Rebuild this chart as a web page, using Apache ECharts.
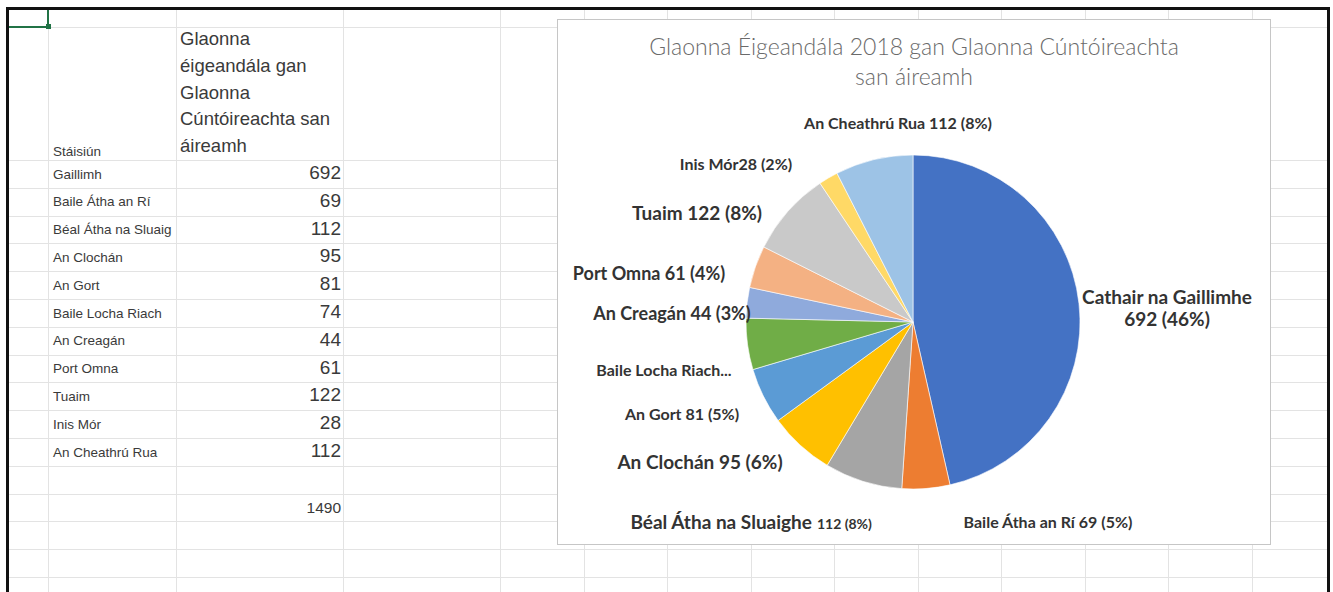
<!DOCTYPE html>
<html><head><meta charset="utf-8">
<script src="https://cdn.jsdelivr.net/npm/echarts@6/dist/echarts.min.js"></script>
<style>
html,body{margin:0;padding:0;background:#fff;}
#page{position:relative;width:1333px;height:592px;overflow:hidden;font-family:"Liberation Sans",Arial,sans-serif;background:#fff;}
.h{position:absolute;height:1px;background:#e3e3e3;left:7px;width:1320px;}
.v{position:absolute;width:1px;background:#e3e3e3;top:9px;bottom:0;}
.t{position:absolute;color:#3a3a3a;white-space:nowrap;}
#frame{position:absolute;left:6px;top:7px;width:1318px;height:600px;border:3px solid #111;border-bottom:none;}
#chart{position:absolute;left:557px;top:19px;width:712px;height:524px;border:1px solid #c6c6c6;background:#fff;}
</style></head>
<body><div id="page"><div id="chart"></div></div>
<script>
// ---- data ----
const categories = ["Gaillimh","Baile Átha an Rí","Béal Átha na Sluaig","An Clochán","An Gort","Baile Locha Riach","An Creagán","Port Omna","Tuaim","Inis Mór","An Cheathrú Rua"];
const values = [692, 69, 112, 95, 81, 74, 44, 61, 122, 28, 112];
const chartNames = ["Cathair na Gaillimhe","Baile Átha an Rí","Béal Átha na Sluaighe","An Clochán","An Gort","Baile Locha Riach","An Creagán","Port Omna","Tuaim","Inis Mór","An Cheathrú Rua"];
const headerLines = ["Glaonna","éigeandála gan","Glaonna","Cúntóireachta san","áireamh"];
const firstHeader = "Stáisiún";
const titleText = "Glaonna Éigeandála 2018 gan Glaonna Cúntóireachta\nsan áireamh";
const total = values.reduce((a, b) => a + b, 0);

// ---- styling / layout ----
const colors = ["#4472C4","#ED7D31","#A5A5A5","#FFC000","#5B9BD5","#70AD47","#8FAADC","#F4B183","#C9C9C9","#FFD966","#9DC3E6"];
const labelSizes = [19, 16, 19, 19, 16, 16, 18, 18, 19, 16, 16];
// label centres relative to the chart box
const labelPos = [[609,287],[490,501],[193,500],[142,441],[124,393],[106,349],[114,293],[91,253],[139,192],[178,143],[340,102]];

const page = document.getElementById('page');
function add(cls, css, text) {
  const d = document.createElement('div');
  d.className = cls;
  Object.assign(d.style, css);
  if (text !== undefined) d.textContent = text;
  page.insertBefore(d, document.getElementById('chart'));
  return d;
}
// spreadsheet grid
const colX = [48,176,343,500,583.5,667,750.5,834,917.5,1001,1084.5,1168,1251.5];
colX.forEach(x => add('v', {left: x + 'px'}));
const rowY = [27,160];
for (let i = 1; i <= 15; i++) rowY.push(160 + i * 27.8);
rowY.forEach(y => add('h', {top: Math.round(y) + 'px'}));
// frame
const fr = document.createElement('div'); fr.id = 'frame'; page.appendChild(fr);
// selection marker
add('', {position:'absolute', left:'7px', top:'26px', width:'42px', height:'2px', background:'#217346'});
add('', {position:'absolute', left:'47px', top:'9px', width:'2px', height:'18px', background:'#217346'});
add('', {position:'absolute', left:'46px', top:'24px', width:'5px', height:'5px', background:'#217346'});
// header
add('t', {left:'53px', top:'144px', fontSize:'13.5px', lineHeight:'16px'}, firstHeader);
add('t', {left:'180px', top:'26px', fontSize:'18.5px', lineHeight:'26.8px', whiteSpace:'pre'}, headerLines.join('\n'));
// rows
categories.forEach((c, i) => {
  const top = 160 + i * 27.8;
  add('t', {left:'53px', top:(top + 6.5) + 'px', fontSize:'13.5px', lineHeight:'16px'}, c);
  add('t', {right:(1333 - 341) + 'px', top:(top + 3) + 'px', fontSize:'19px', lineHeight:'20px', textAlign:'right'}, String(values[i]));
});
add('t', {right:(1333 - 341) + 'px', top:(160 + 12 * 27.8 + 6) + 'px', fontSize:'15.5px', lineHeight:'16px'}, String(total));

// ---- chart ----
const pct = v => Math.round(v / total * 100);
function labelText(i) {
  const v = values[i], p = pct(v);
  if (i === 0) return chartNames[i] + '\n' + v + ' (' + p + '%)';
  if (i === 2) return '{a|' + chartNames[i] + '} {b|' + v + ' (' + p + '%)}';
  if (i === 5) return chartNames[i] + '...';
  if (i === 9) return chartNames[i] + v + ' (' + p + '%)';
  return chartNames[i] + ' ' + v + ' (' + p + '%)';
}
const chart = echarts.init(document.getElementById('chart'), null, {renderer: 'svg'});
chart.setOption({
  animation: false,
  title: {
    text: titleText, left: 'center', top: 6,
    textStyle: {fontFamily: 'Lato', fontWeight: 300, fontSize: 23, color: '#6a6a6a', lineHeight: 30}
  },
  series: [{
    type: 'pie',
    center: [355, 302],
    radius: 167,
    startAngle: 90,
    clockwise: true,
    avoidLabelOverlap: false,
    itemStyle: {borderColor: '#fff', borderWidth: 0.6},
    labelLine: {show: false},
    data: values.map((v, i) => ({
      name: chartNames[i], value: v,
      itemStyle: {color: colors[i]},
      label: {
        show: true, position: 'outside',
        formatter: labelText(i),
        fontFamily: 'Lato', fontWeight: 'bold', fontSize: labelSizes[i], color: '#333',
        align: 'center', lineHeight: labelSizes[i] + 3,
        rich: {
          a: {fontFamily: 'Lato', fontWeight: 'bold', fontSize: 19, color: '#333', verticalAlign: 'bottom'},
          b: {fontFamily: 'Lato', fontWeight: 'bold', fontSize: 14, color: '#333', verticalAlign: 'bottom', padding: [0,0,1,0]}
        }
      }
    })),
    labelLayout: function (params) {
      const p = labelPos[params.dataIndex];
      return {x: p[0], y: p[1], align: 'center', verticalAlign: 'middle', hideOverlap: false};
    }
  }]
});
</script>
</body></html>
